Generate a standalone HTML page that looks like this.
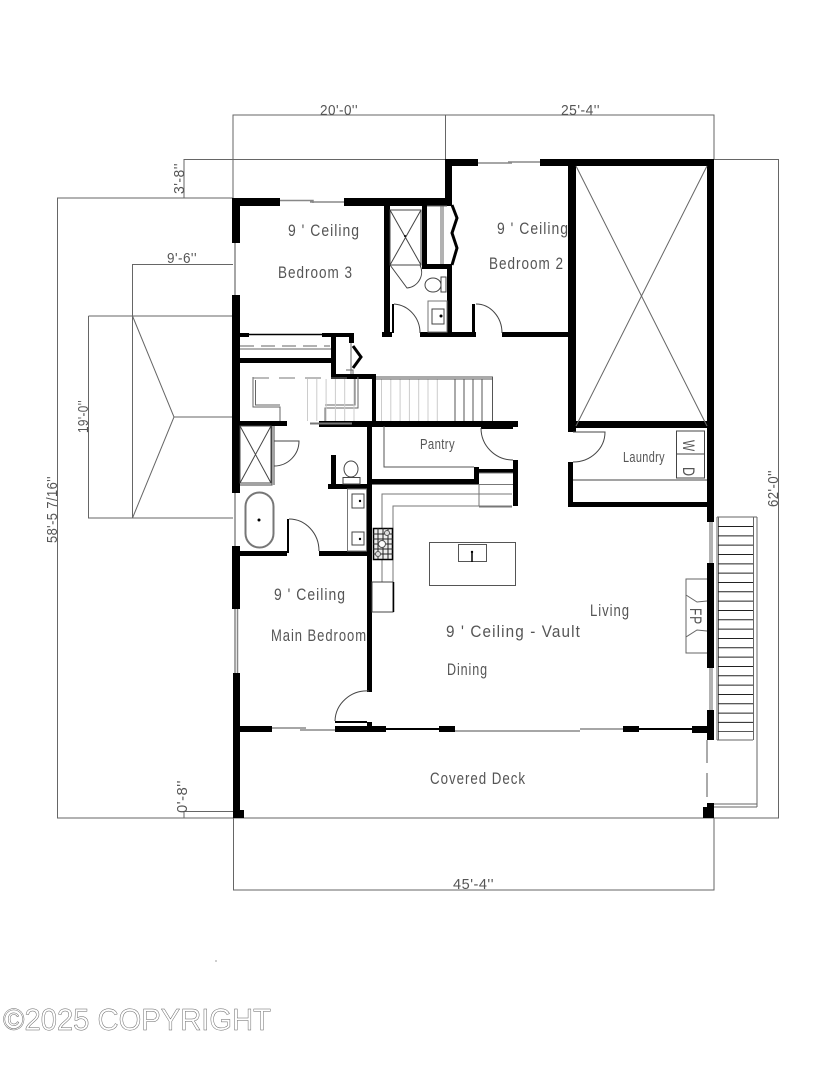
<!DOCTYPE html>
<html><head><meta charset="utf-8"><style>
html,body{margin:0;padding:0;background:#fff}
svg{display:block}
text{font-family:"Liberation Sans",sans-serif;fill:#555;font-size:16.500px;letter-spacing:1.200px}
.d{font-size:14.500px;letter-spacing:.5px}
.s{font-size:15px;letter-spacing:.5px}
.c{font-size:31px;fill:#fff;stroke:#666;stroke-width:.5px;letter-spacing:0}
</style></head><body>
<svg width="825" height="1068" viewBox="0 0 825 1068" xmlns="http://www.w3.org/2000/svg">
<rect width="825" height="1068" fill="#fff"/>

<!-- outer dimensions and roof -->
<path fill="none" stroke="#666" d="M233 198V115H714V159M445.500 115V159M184 198V159.500H445M57 198H233M57.500 198V818H714M184 811.500H233M184 811V818M233.500 818V890H714V818M714 159.500H778.500V818H714M132.500 264.500H233M132.500 264V518M88.500 316H233M88.500 316V518H233M132.500 316L174 417L132.500 518M174 417H233"/>

<!-- walls -->
<path fill="#000" d="M232 198h48v8h-48zM344 198h108v8h-108zM232 198h8v45h-8zM232 295h8v198h-8zM232 546h8v63h-8zM233 673h7v145h-7zM233 810h11v8h-11zM445 159h33v7h-33zM540 159h174v7h-174zM445 159h7v46h-7zM447 265h5v68h-5zM568 159h8v273h-8zM707 159h7v363h-7zM568 421h146v7h-146zM568 462h5v45h-5zM568 502h146v5h-146zM707 563h7v105h-7zM707 710h7v30h-7zM703 807h11v11h-11zM707 803h7v6h-7zM384 205h6v128h-6zM382 332h10v5h-10zM422 205h5v63h-5zM422 264h30v5h-30zM392 304h2v29h-2zM420 332h56v5h-56zM472 304h3v33h-3zM502 332h70v5h-70zM319 421h199v6h-199zM372 377h4v50h-4zM332 374h44v5h-44zM331 337h5v42h-5zM322 333h32v4h-32zM349 333h5v10h-5zM240 333h9v4h-9zM240 358h92v5h-92zM240 421h47v5h-47zM367 423h5v269h-5zM331 455h5v30h-5zM328 484h40v5h-40zM240 551h47v5h-47zM287 519h2v34h-2zM319 551h49v5h-49zM372 479h107v5h-107zM474 467h5v17h-5zM474 469h39v4h-39zM513 460h5v46h-5zM481 427h32v2h-32zM240 726h32v6h-32zM335 726h51v6h-51zM335 721h32v2h-32zM367 722h5v5h-5zM386 728h53v2h-53zM439 726h16v6h-16zM623 726h16v6h-16zM639 728h53v2h-53zM692 726h15v7h-15z"/>
<path fill="none" stroke="#000" stroke-width="3" d="M452 205L457 218L452 233L457 248L452 265M353 346L361 357L353 368"/>

<!-- windows -->
<path fill="none" stroke="#888" stroke-width="1.500" d="M280 200.500H313V203M310 202H344M478 163H512M508 162H540M272 728H306M300 730H335M455 731H580M580 729H623M235 243V295M235 493V546M235 609V673M237.500 609V673"/>
<path fill="none" stroke="#666" d="M710 522V563M712 522V563M710 668V710M712 668V710"/>

<!-- door swings and fixtures -->
<g fill="none" stroke="#444">
<path d="M394 304A28 29 0 0 1 420 333M476 304A26 29 0 0 1 502 333M289 519A30 32 0 0 1 319 551M481 428A32 32 0 0 0 513 460M573 432H605A32 30 0 0 1 573 462M274 441H299A25 25 0 0 1 274 466M335 721A32 31 0 0 1 369 691M390 265L407 288A16 16 0 0 0 420 265"/>
<path d="M390 210H421V265H390ZM390 210L421 265M421 210L390 265M240 426H271V483H240ZM240 426L271 483M271 426L240 483M272 426V485H240M274 426V485"/>
<path stroke="#666" d="M427 206H447M441 206V264M443 206V264M240 349H331M351 343V374M346 370H353V374M253 377V407H280V421M255.500 380V405H280M358 377V408H325V421M355 379V405H325"/>
<ellipse cx="433" cy="285" rx="8" ry="7"/>
<rect x="441" y="277" width="5" height="15"/>
<rect x="428" y="301" width="19" height="31" stroke="#777"/>
<rect x="432" y="309" width="12" height="15"/>
<ellipse cx="351" cy="469" rx="7" ry="8"/>
<rect x="343" y="477.500" width="17" height="6.500"/>
<rect x="347.500" y="489" width="19" height="62" stroke="#777"/>
<rect x="352" y="494" width="12" height="14"/>
<rect x="352" y="532" width="12" height="13"/>
<rect x="245.500" y="492.500" width="28" height="55" rx="14" stroke="#777" stroke-width="2"/>
<path stroke="#000" stroke-width="1.500" d="M249 334.500H322"/>
<path stroke="#666" stroke-dasharray="14 7" d="M240 346H330"/>
<path stroke="#777" stroke-dasharray="16 10" d="M253 378H358"/>
<path stroke="#777" stroke-width="2" d="M310 423.500H352"/>
</g>

<!-- stairs -->
<g fill="none">
<path stroke="#ccc" stroke-width="42" stroke-dasharray="1 8.300" d="M307 400H356M381 400H446"/>
<path stroke="#555" d="M376 377H492.500V421M376 379H492.500M455 379V421M464 379V421M473 379V421M482 379V421"/>
</g>

<!-- pantry, kitchen, laundry, garage, fireplace -->
<g fill="none" stroke="#777">
<path stroke="#555" d="M384 426V467H474"/>
<path d="M372 484.500H513M382 582V494H512M393 582V506H479M479 473H513M479 484V506H512M479 507H512"/>
<rect x="429.500" y="542.500" width="86" height="43" stroke="#555"/>
<rect x="458.500" y="544.500" width="28" height="17" stroke="#555"/>
<rect x="372" y="582" width="21" height="30" stroke="#444"/>
<path stroke="#000" stroke-width="1.500" d="M393.500 582V612M472 553V562"/>
<rect x="373.500" y="528.500" width="19" height="31" stroke="#000" stroke-width="1.500" fill="#eee"/>
<path stroke="#222" d="M378 528V559M383 528V559M388 528V559M373 534H393M373 539H393M373 544H393M373 549H393M373 554H393"/>
<circle cx="387" cy="533" r="2.500" fill="#ddd" stroke="#555"/>
<circle cx="382" cy="544" r="3.500" fill="#fff" stroke="#555"/>
<circle cx="378" cy="554" r="2.500" fill="#ddd" stroke="#555"/>
<rect x="676.500" y="431" width="28" height="47" stroke="#444"/>
<path stroke="#444" d="M676 454H704M573 480H707"/>
<path stroke="#666" d="M576 166L707 426M707 166L576 426M707 579H686V653H707M686 595L697 602L707 601M686 637L697 630L707 631"/>
</g>

<!-- deck and its steps -->
<g fill="none">
<path stroke="#555" d="M707 740V763M707 773V797"/>
<path stroke="#666" d="M714 804H757M714 807H757M757 517V807M753.500 517V740M717 517V740M718.500 517V740M717 517H757M717 740H753"/>
<path stroke="#222" stroke-width="35" stroke-dasharray="1 8.330" d="M735.500 526V732"/>
</g>

<!-- small dots -->
<g fill="#000">
<circle cx="405" cy="236" r="1"/>
<circle cx="441" cy="316" r="1.500"/>
<circle cx="259" cy="520" r="1.500"/>
<circle cx="360" cy="501" r="1.200"/>
<circle cx="360" cy="539" r="1.200"/>
<circle cx="472" cy="552" r="1.200"/>
<circle cx="216" cy="961" r=".6" fill="#555"/>
</g>

<!-- room labels -->
<g lengthAdjust="spacingAndGlyphs">
<text lengthAdjust="spacingAndGlyphs" x="288" y="236" textLength="72">9 ' Ceiling</text>
<text lengthAdjust="spacingAndGlyphs" x="278" y="278" textLength="75">Bedroom 3</text>
<text lengthAdjust="spacingAndGlyphs" x="497" y="234" textLength="72">9 ' Ceiling</text>
<text lengthAdjust="spacingAndGlyphs" x="489" y="269" textLength="75">Bedroom 2</text>
<text lengthAdjust="spacingAndGlyphs" class="s" x="420" y="449" textLength="35">Pantry</text>
<text lengthAdjust="spacingAndGlyphs" class="s" x="623" y="462" textLength="42">Laundry</text>
<text lengthAdjust="spacingAndGlyphs" x="274" y="600" textLength="72">9 ' Ceiling</text>
<text lengthAdjust="spacingAndGlyphs" x="271" y="641" textLength="96">Main Bedroom</text>
<text lengthAdjust="spacingAndGlyphs" x="446" y="637" textLength="135">9 ' Ceiling - Vault</text>
<text lengthAdjust="spacingAndGlyphs" x="447" y="675" textLength="41">Dining</text>
<text lengthAdjust="spacingAndGlyphs" x="590" y="616" textLength="40">Living</text>
<text lengthAdjust="spacingAndGlyphs" x="430" y="784" textLength="96">Covered Deck</text>
<text lengthAdjust="spacingAndGlyphs" transform="translate(690 608) rotate(90)" textLength="17">FP</text>
<text lengthAdjust="spacingAndGlyphs" transform="translate(683 440) rotate(90)" textLength="12">W</text>
<text lengthAdjust="spacingAndGlyphs" transform="translate(683 467) rotate(90)" textLength="10">D</text>
</g>

<!-- dimension labels -->
<text lengthAdjust="spacingAndGlyphs" class="d" x="320" y="115" textLength="38">20'-0''</text>
<text lengthAdjust="spacingAndGlyphs" class="d" x="561" y="115" textLength="39">25'-4''</text>
<text lengthAdjust="spacingAndGlyphs" class="d" x="167" y="263" textLength="30">9'-6''</text>
<text lengthAdjust="spacingAndGlyphs" class="d" x="453" y="889" textLength="41">45'-4''</text>
<text lengthAdjust="spacingAndGlyphs" class="d" transform="translate(184 194) rotate(-90)" textLength="31">3'-8''</text>
<text lengthAdjust="spacingAndGlyphs" class="d" transform="translate(57 543) rotate(-90)" textLength="67">58'-5 7/16''</text>
<text lengthAdjust="spacingAndGlyphs" class="d" transform="translate(88 433) rotate(-90)" textLength="33">19'-0''</text>
<text lengthAdjust="spacingAndGlyphs" class="d" transform="translate(778 507) rotate(-90)" textLength="37">62'-0''</text>
<text lengthAdjust="spacingAndGlyphs" class="d" transform="translate(187 813) rotate(-90)" textLength="33">0'-8''</text>

<!-- copyright -->
<text class="c" x="3" y="1030" textLength="268" lengthAdjust="spacingAndGlyphs">©2025 COPYRIGHT</text>
</svg>
</body></html>
